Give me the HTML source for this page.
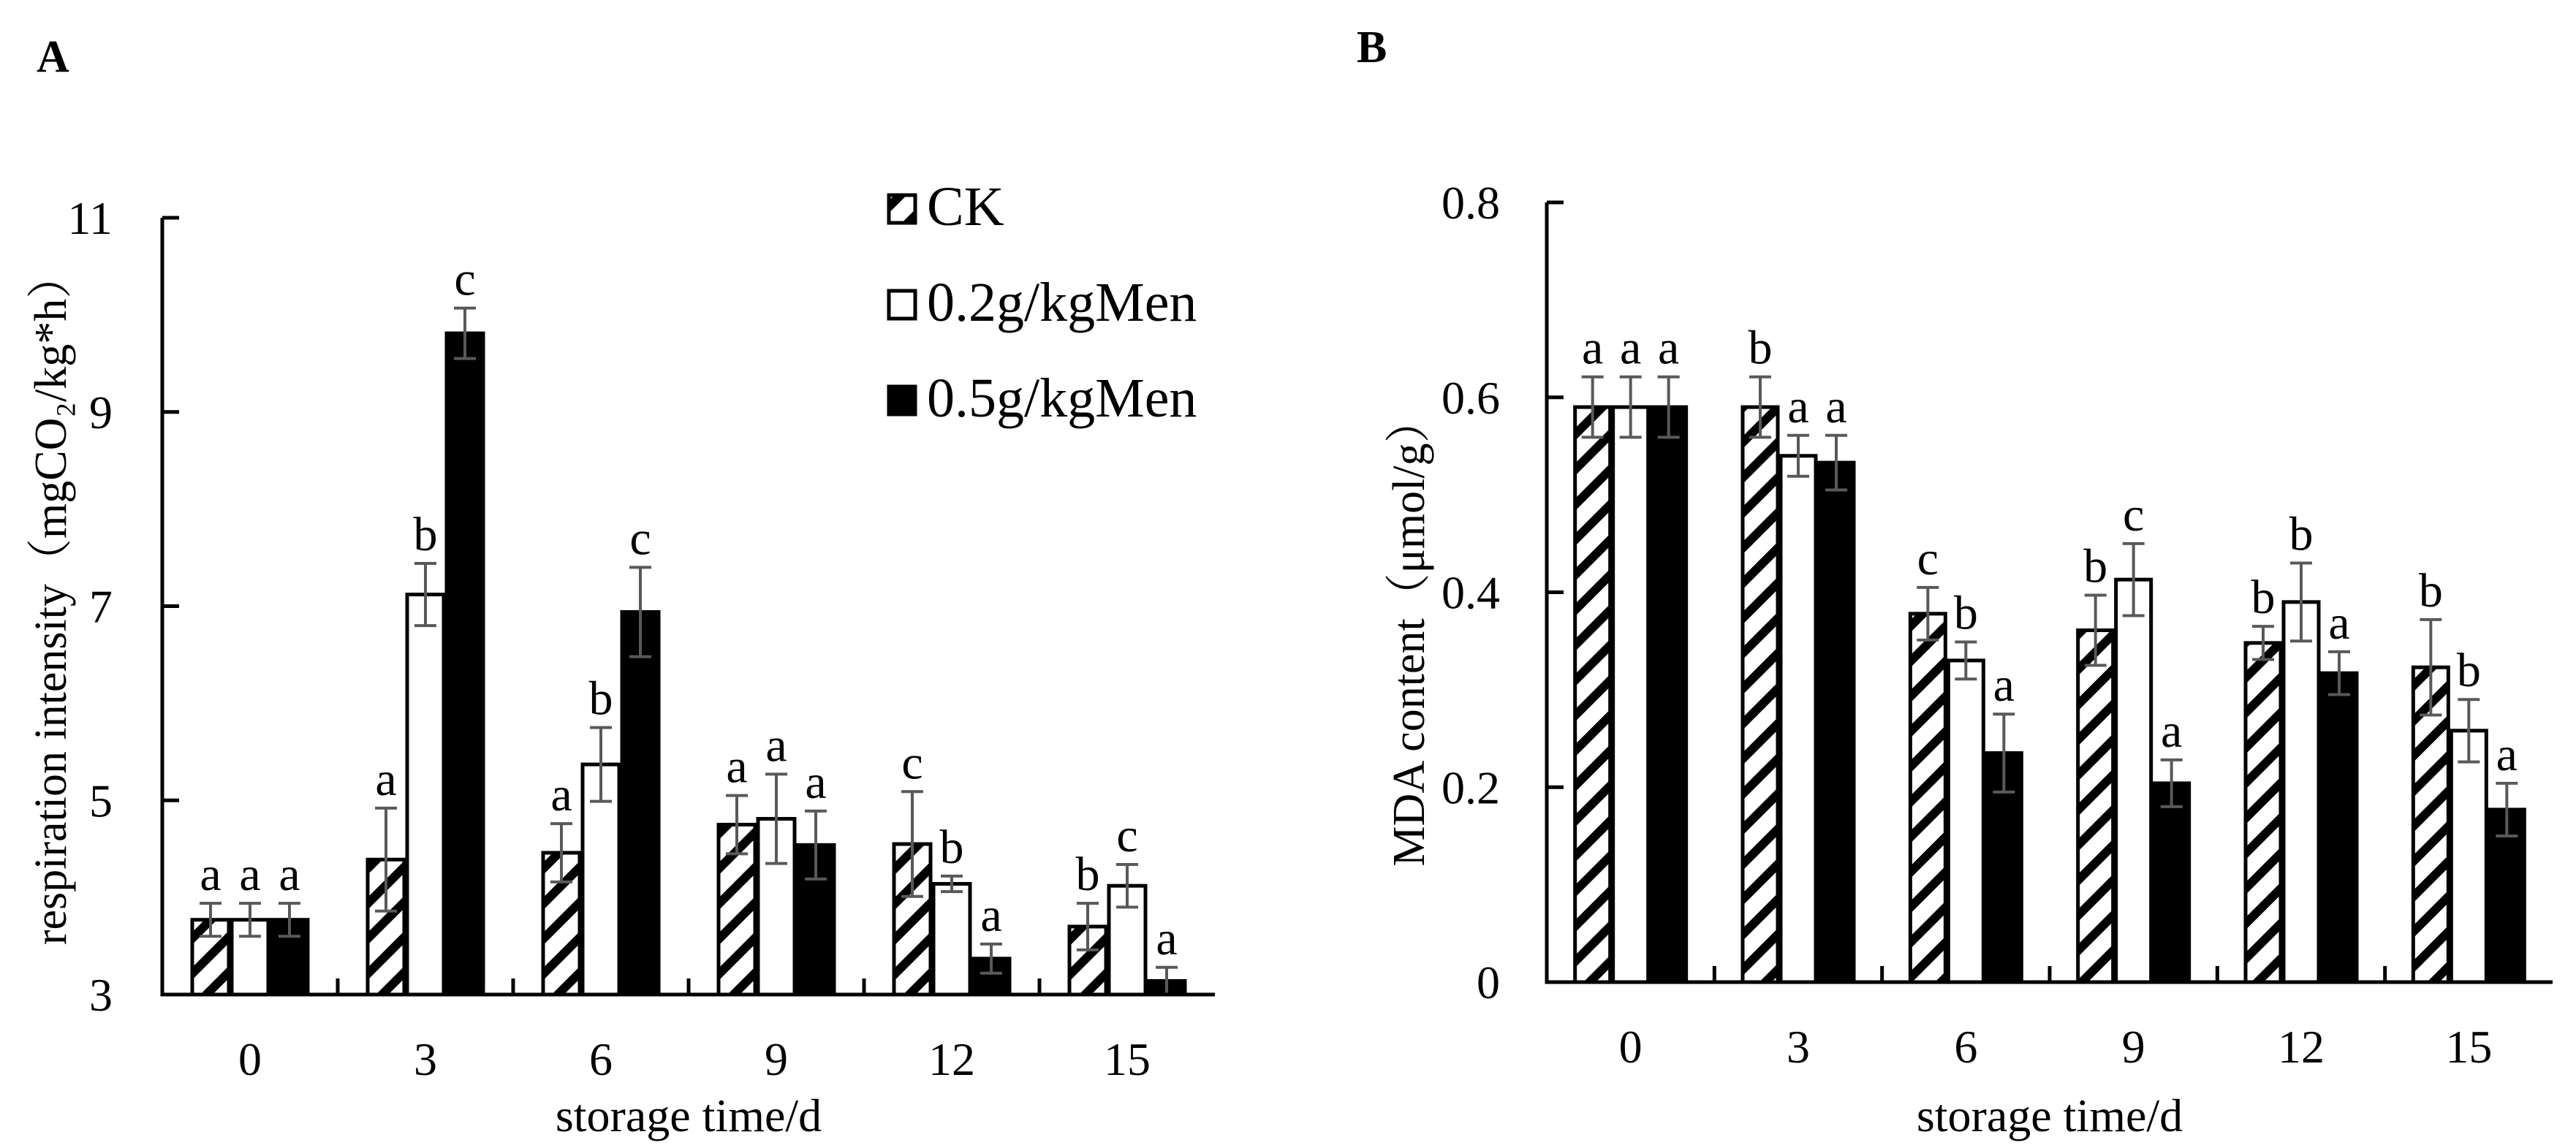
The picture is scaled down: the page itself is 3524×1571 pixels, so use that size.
<!DOCTYPE html>
<html><head><meta charset="utf-8"><style>
html,body{margin:0;padding:0;background:#fff;}
svg{display:block;font-family:"Liberation Serif","Noto Serif CJK SC",serif;}
</style></head><body>
<svg id="fig" width="3524" height="1571" viewBox="0 0 3524 1571" xmlns="http://www.w3.org/2000/svg">
<defs>
<pattern id="hatch" patternUnits="userSpaceOnUse" width="34" height="34" patternTransform="rotate(45)">
<rect width="34" height="34" fill="#fff"/>
<rect x="0" y="0" width="12" height="34" fill="#000"/>
</pattern>
</defs>
<text x="50" y="98" font-size="62" font-weight="bold">A</text>
<text x="1856" y="85" font-size="62" font-weight="bold">B</text>
<g id="chartA"></g>
<g id="chartB"></g>
<g>
<g><rect x="1216" y="267" width="36" height="38" fill="url(#hatch)" stroke="#000" stroke-width="5"/><text x="1268" y="308" font-size="76">CK</text></g>
<g><rect x="1216" y="398" width="36" height="38" fill="#fff" stroke="#000" stroke-width="5"/><text x="1268" y="439" font-size="76">0.2g/kgMen</text></g>
<g><rect x="1216" y="529" width="36" height="38" fill="#000" stroke="#000" stroke-width="5"/><text x="1268" y="570" font-size="76">0.5g/kgMen</text></g>
</g>
</svg>
<script>
const categories = ["0","3","6","9","12","15"];
const aCK = [3.77,4.39,4.46,4.75,4.55,3.70];
const aLow = [3.77,7.12,5.37,4.81,4.14,4.12];
const aHigh = [3.77,9.81,6.94,4.54,3.37,3.14];
const aCKerr = [0.17,0.53,0.30,0.30,0.54,0.24];
const aLowErr = [0.17,0.32,0.38,0.46,0.08,0.22];
const aHighErr = [0.17,0.26,0.46,0.35,0.15,0.14];
const aCKlet = ["a","a","a","a","c","b"];
const aLowLet = ["a","b","b","a","b","c"];
const aHighLet = ["a","c","c","a","a","a"];
const aTicks = [3,5,7,9,11];
const aTickLabels = ["3","5","7","9","11"];

const bCK = [0.59,0.59,0.378,0.361,0.348,0.323];
const bLow = [0.59,0.54,0.330,0.413,0.390,0.258];
const bHigh = [0.59,0.533,0.235,0.204,0.317,0.177];
const bCKerr = [0.031,0.031,0.027,0.036,0.017,0.049];
const bLowErr = [0.031,0.021,0.019,0.037,0.040,0.032];
const bHighErr = [0.031,0.028,0.040,0.024,0.022,0.027];
const bCKlet = ["a","b","c","b","b","b"];
const bLowLet = ["a","a","b","c","b","b"];
const bHighLet = ["a","a","a","a","a","a"];
const bTicks = [0,0.2,0.4,0.6,0.8];
const bTickLabels = ["0","0.2","0.4","0.6","0.8"];

const NS="http://www.w3.org/2000/svg";
function mk(tag,attrs,parent){const e=document.createElementNS(NS,tag);for(const k in attrs)e.setAttribute(k,attrs[k]);parent.appendChild(e);return e;}

function drawChart(g,cfg){
  const {x0,x1,yTop,yBot,vmin,vmax,barW,gap,tickLabRight,fs}=cfg;
  const yScale=v=>yBot-(v-vmin)/(vmax-vmin)*(yBot-yTop);
  const catW=(x1-x0)/categories.length;
  const series=[
    {vals:cfg.ck,err:cfg.ckErr,let:cfg.ckLet,fill:"url(#hatch)",name:"ck"},
    {vals:cfg.low,err:cfg.lowErr,let:cfg.lowLet,fill:"#fff",name:"0-2g"},
    {vals:cfg.high,err:cfg.highErr,let:cfg.highLet,fill:"#000",name:"0-5g"}];
  categories.forEach((c,i)=>{
    const gx=x0+i*catW+(catW-3*barW)/2;
    series.forEach((s,j)=>{
      const bx=gx+j*barW, by=yScale(s.vals[i]);
      const r=mk("rect",{x:bx+2,y:by,width:barW-4,height:yBot-by,fill:s.fill,stroke:"#000","stroke-width":5},g);
      
      
      const cx=bx+barW/2, t=yScale(s.vals[i]+s.err[i]), b=yScale(s.vals[i]-s.err[i]);
      const e=mk("path",{d:`M${cx} ${t}V${b}M${cx-15} ${t}H${cx+15}M${cx-15} ${b}H${cx+15}`,stroke:"#595959","stroke-width":4,fill:"none"},g);
      
      
      const lt=mk("text",{x:cx,y:t-18,"font-size":66,"text-anchor":"middle"},g);
      lt.textContent=s.let[i];
      
      
    });
    const xl=mk("text",{x:x0+(i+0.5)*catW,y:yBot+110,"font-size":64,"text-anchor":"middle"},g);
    xl.textContent=c;
    
    
    if(i>0){const tk=mk("line",{x1:x0+i*catW,x2:x0+i*catW,y1:yBot,y2:yBot-22,stroke:"#000","stroke-width":5},g);
      
      }
  });
  cfg.ticks.forEach((v,k)=>{
    const y=yScale(v);
    const tk=mk("line",{x1:x0,x2:x0+23,y1:y,y2:y,stroke:"#000","stroke-width":5},g);
    
    
    const tl=mk("text",{x:tickLabRight,y:y+22,"font-size":64,"text-anchor":"end"},g);
    tl.textContent=cfg.tickLabels[k];
    
    
  });
  const ax=mk("path",{d:`M${x0} ${yTop}V${yBot}H${x1}`,stroke:"#000","stroke-width":5,fill:"none"},g);
  
  
  const xt=mk("text",{x:(x0+x1)/2,y:1548,"font-size":64,"text-anchor":"middle"},g);
  xt.textContent="storage time/d";
  
  
  const yt=mk("text",{x:0,y:0,"font-size":62,"text-anchor":"middle",transform:`translate(${cfg.titleX},${cfg.titleY}) rotate(-90)`},g);
  yt.textContent=cfg.title;
  
  
}
drawChart(document.getElementById('chartA'),{x0:222,x1:1662,yTop:298,yBot:1361,vmin:3,vmax:11,barW:54,tickLabRight:154,
  ck:aCK,low:aLow,high:aHigh,ckErr:aCKerr,lowErr:aLowErr,highErr:aHighErr,ckLet:aCKlet,lowLet:aLowLet,highLet:aHighLet,
  ticks:aTicks,tickLabels:aTickLabels,title:"respiration intensity（mgCO₂/kg*h）",titleX:90,titleY:820});
drawChart(document.getElementById('chartB'),{x0:2116,x1:3492,yTop:277,yBot:1344,vmin:0,vmax:0.8,barW:52,tickLabRight:2052,
  ck:bCK,low:bLow,high:bHigh,ckErr:bCKerr,lowErr:bLowErr,highErr:bHighErr,ckLet:bCKlet,lowLet:bLowLet,highLet:bHighLet,
  ticks:bTicks,tickLabels:bTickLabels,title:"MDA  content（μmol/g）",titleX:1948,titleY:865});
</script>
</body></html>
